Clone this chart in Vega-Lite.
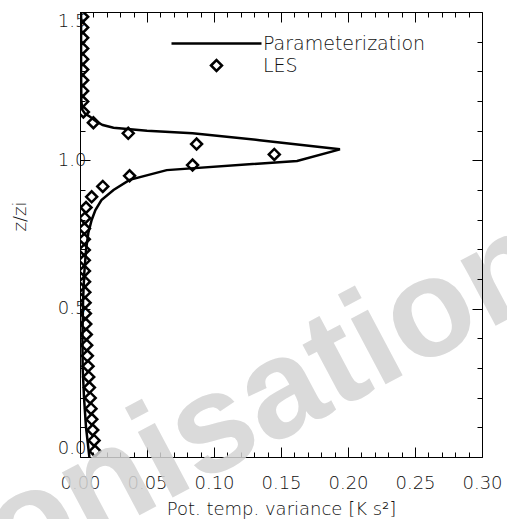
{
  "$schema": "https://vega.github.io/schema/vega-lite/v6.json",
  "width": 402,
  "height": 445,
  "autosize": "none",
  "padding": {"left": 80, "top": 12, "right": 25, "bottom": 62},
  "background": "white",
  "config": {
    "view": {"stroke": null},
    "font": "DejaVu Sans",
    "axis": {
      "grid": false,
      "domainColor": "black",
      "domainWidth": 1,
      "tickColor": "black",
      "tickWidth": 1,
      "labelColor": "#111111",
      "labelFont": "DejaVu Sans",
      "labelFontWeight": 200,
      "labelFontSize": 18,
      "titleColor": "#111111",
      "titleFont": "DejaVu Sans",
      "titleFontWeight": 200,
      "titleFontSize": 18
    }
  },
  "datasets": {
    "param": [
      {"z": 1.50, "variance": 0.0008},
      {"z": 1.30, "variance": 0.0008},
      {"z": 1.20, "variance": 0.0010},
      {"z": 1.17, "variance": 0.0018},
      {"z": 1.158, "variance": 0.0037},
      {"z": 1.147, "variance": 0.0075},
      {"z": 1.130, "variance": 0.0124},
      {"z": 1.119, "variance": 0.0170},
      {"z": 1.110, "variance": 0.0250},
      {"z": 1.100, "variance": 0.0500},
      {"z": 1.091, "variance": 0.0840},
      {"z": 1.068, "variance": 0.1340},
      {"z": 1.037, "variance": 0.1940},
      {"z": 0.998, "variance": 0.1620},
      {"z": 0.967, "variance": 0.0647},
      {"z": 0.934, "variance": 0.0370},
      {"z": 0.900, "variance": 0.0250},
      {"z": 0.866, "variance": 0.0160},
      {"z": 0.832, "variance": 0.0115},
      {"z": 0.799, "variance": 0.0087},
      {"z": 0.755, "variance": 0.0062},
      {"z": 0.698, "variance": 0.0045},
      {"z": 0.620, "variance": 0.0032},
      {"z": 0.530, "variance": 0.0023},
      {"z": 0.400, "variance": 0.0018},
      {"z": 0.300, "variance": 0.0020},
      {"z": 0.200, "variance": 0.0030},
      {"z": 0.100, "variance": 0.0045},
      {"z": 0.000, "variance": 0.0070}
    ],
    "les": [
      {"z": 0.020, "variance": 0.0112, "series": "LES"},
      {"z": 0.056, "variance": 0.0105, "series": "LES"},
      {"z": 0.091, "variance": 0.0095, "series": "LES"},
      {"z": 0.127, "variance": 0.0088, "series": "LES"},
      {"z": 0.163, "variance": 0.0082, "series": "LES"},
      {"z": 0.199, "variance": 0.0076, "series": "LES"},
      {"z": 0.234, "variance": 0.0070, "series": "LES"},
      {"z": 0.270, "variance": 0.0065, "series": "LES"},
      {"z": 0.306, "variance": 0.0060, "series": "LES"},
      {"z": 0.341, "variance": 0.0055, "series": "LES"},
      {"z": 0.377, "variance": 0.0050, "series": "LES"},
      {"z": 0.413, "variance": 0.0047, "series": "LES"},
      {"z": 0.448, "variance": 0.0043, "series": "LES"},
      {"z": 0.484, "variance": 0.0040, "series": "LES"},
      {"z": 0.520, "variance": 0.0038, "series": "LES"},
      {"z": 0.555, "variance": 0.0036, "series": "LES"},
      {"z": 0.591, "variance": 0.0034, "series": "LES"},
      {"z": 0.627, "variance": 0.0033, "series": "LES"},
      {"z": 0.663, "variance": 0.0032, "series": "LES"},
      {"z": 0.698, "variance": 0.0032, "series": "LES"},
      {"z": 0.734, "variance": 0.0032, "series": "LES"},
      {"z": 0.770, "variance": 0.0033, "series": "LES"},
      {"z": 0.805, "variance": 0.0036, "series": "LES"},
      {"z": 0.841, "variance": 0.0045, "series": "LES"},
      {"z": 0.877, "variance": 0.0087, "series": "LES"},
      {"z": 0.912, "variance": 0.0170, "series": "LES"},
      {"z": 0.948, "variance": 0.0370, "series": "LES"},
      {"z": 0.984, "variance": 0.0840, "series": "LES"},
      {"z": 1.020, "variance": 0.1450, "series": "LES"},
      {"z": 1.055, "variance": 0.0870, "series": "LES"},
      {"z": 1.091, "variance": 0.0360, "series": "LES"},
      {"z": 1.127, "variance": 0.0100, "series": "LES"},
      {"z": 1.163, "variance": 0.0025, "series": "LES"},
      {"z": 1.198, "variance": 0.0020, "series": "LES"},
      {"z": 1.234, "variance": 0.0020, "series": "LES"},
      {"z": 1.270, "variance": 0.0020, "series": "LES"},
      {"z": 1.306, "variance": 0.0020, "series": "LES"},
      {"z": 1.341, "variance": 0.0020, "series": "LES"},
      {"z": 1.377, "variance": 0.0020, "series": "LES"},
      {"z": 1.413, "variance": 0.0020, "series": "LES"},
      {"z": 1.448, "variance": 0.0020, "series": "LES"},
      {"z": 1.484, "variance": 0.0020, "series": "LES"}
    ],
    "watermark": [
      {"variance": 0.155, "z": 0.07, "label": "onisation"}
    ]
  },
  "resolve": {"axis": {"x": "independent", "y": "independent"}},
  "layer": [
    {
      "data": {"name": "param"},
      "mark": {"type": "line", "stroke": "black", "strokeWidth": 2.5, "clip": true},
      "encoding": {
        "x": {
          "field": "variance", "type": "quantitative",
          "scale": {"domain": [0, 0.3], "nice": false, "zero": false},
          "axis": {
            "orient": "bottom",
            "title": "Pot. temp. variance [K s²]",
            "titlePadding": 3,
            "values": [0, 0.01, 0.02, 0.03, 0.04, 0.05, 0.06, 0.07, 0.08, 0.09, 0.1, 0.11, 0.12, 0.13, 0.14, 0.15, 0.16, 0.17, 0.18, 0.19, 0.2, 0.21, 0.22, 0.23, 0.24, 0.25, 0.26, 0.27, 0.28, 0.29, 0.3],
            "labelExpr": "abs(datum.value*20 - round(datum.value*20)) < 0.001 ? format(datum.value, '.2f') : ''",
            "labelFlush": false,
            "labelOverlap": false,
            "labelPadding": 27,
            "tickSize": {"condition": {"test": "abs(datum.value*20 - round(datum.value*20)) < 0.001", "value": -10}, "value": -5}
          }
        },
        "y": {
          "field": "z", "type": "quantitative",
          "scale": {"domain": [0, 1.5], "nice": false, "zero": false},
          "axis": {
            "orient": "left",
            "title": "z/zi",
            "titleX": -60,
            "titleY": 204,
            "titleAngle": -90,
            "titleBaseline": "middle",
            "titleAlign": "center",
            "values": [0, 0.1, 0.2, 0.3, 0.4, 0.5, 0.6, 0.7, 0.8, 0.9, 1.0, 1.1, 1.2, 1.3, 1.4, 1.5],
            "labelExpr": "abs(datum.value*2 - round(datum.value*2)) < 0.001 ? format(datum.value, '.1f') : ''",
            "labelFlush": true,
            "labelOverlap": false,
            "labelPadding": 4,
            "tickSize": {"condition": {"test": "abs(datum.value*2 - round(datum.value*2)) < 0.001", "value": -10}, "value": -5}
          }
        },
        "order": {"field": "z", "type": "quantitative"}
      }
    },
    {
      "data": {"name": "les"},
      "mark": {"type": "point", "filled": false, "stroke": "black", "strokeWidth": 2.5, "opacity": 1, "clip": true},
      "encoding": {
        "x": {
          "field": "variance", "type": "quantitative",
          "axis": {
            "orient": "top",
            "title": null,
            "labels": false,
            "zindex": 1,
            "values": [0, 0.01, 0.02, 0.03, 0.04, 0.05, 0.06, 0.07, 0.08, 0.09, 0.1, 0.11, 0.12, 0.13, 0.14, 0.15, 0.16, 0.17, 0.18, 0.19, 0.2, 0.21, 0.22, 0.23, 0.24, 0.25, 0.26, 0.27, 0.28, 0.29, 0.3],
            "tickSize": {"condition": {"test": "abs(datum.value*20 - round(datum.value*20)) < 0.001", "value": -10}, "value": -5}
          }
        },
        "y": {
          "field": "z", "type": "quantitative",
          "axis": {
            "orient": "right",
            "title": null,
            "labels": false,
            "zindex": 1,
            "values": [0, 0.1, 0.2, 0.3, 0.4, 0.5, 0.6, 0.7, 0.8, 0.9, 1.0, 1.1, 1.2, 1.3, 1.4, 1.5],
            "tickSize": {"condition": {"test": "abs(datum.value*2 - round(datum.value*2)) < 0.001", "value": -10}, "value": -5}
          }
        },
        "shape": {
          "field": "series", "type": "nominal",
          "scale": {"domain": ["Parameterization", "LES"], "range": ["stroke", "diamond"]},
          "legend": {
            "orient": "none",
            "legendX": 90,
            "legendY": -15,
            "title": null,
            "symbolStrokeColor": "black",
            "symbolStrokeWidth": 2.5,
            "symbolFillColor": "transparent",
            "symbolOpacity": 1,
            "labelFont": "DejaVu Sans",
            "labelFontWeight": 200,
            "labelFontSize": 19,
            "labelColor": "#111111",
            "labelLimit": 0,
            "labelOffset": 0,
            "rowPadding": 1
          }
        },
        "size": {
          "field": "series", "type": "nominal",
          "scale": {"domain": ["Parameterization", "LES"], "range": [8100, 120]}
        }
      }
    },
    {
      "data": {"name": "watermark"},
      "mark": {"type": "text", "font": "Liberation Sans", "fontWeight": "bold", "fontSize": 140, "angle": -28, "align": "center", "baseline": "alphabetic", "fill": "#d4d4d4", "opacity": 0.85},
      "encoding": {
        "x": {"field": "variance", "type": "quantitative", "axis": null},
        "y": {"field": "z", "type": "quantitative", "axis": null},
        "text": {"field": "label"}
      }
    }
  ]
}
